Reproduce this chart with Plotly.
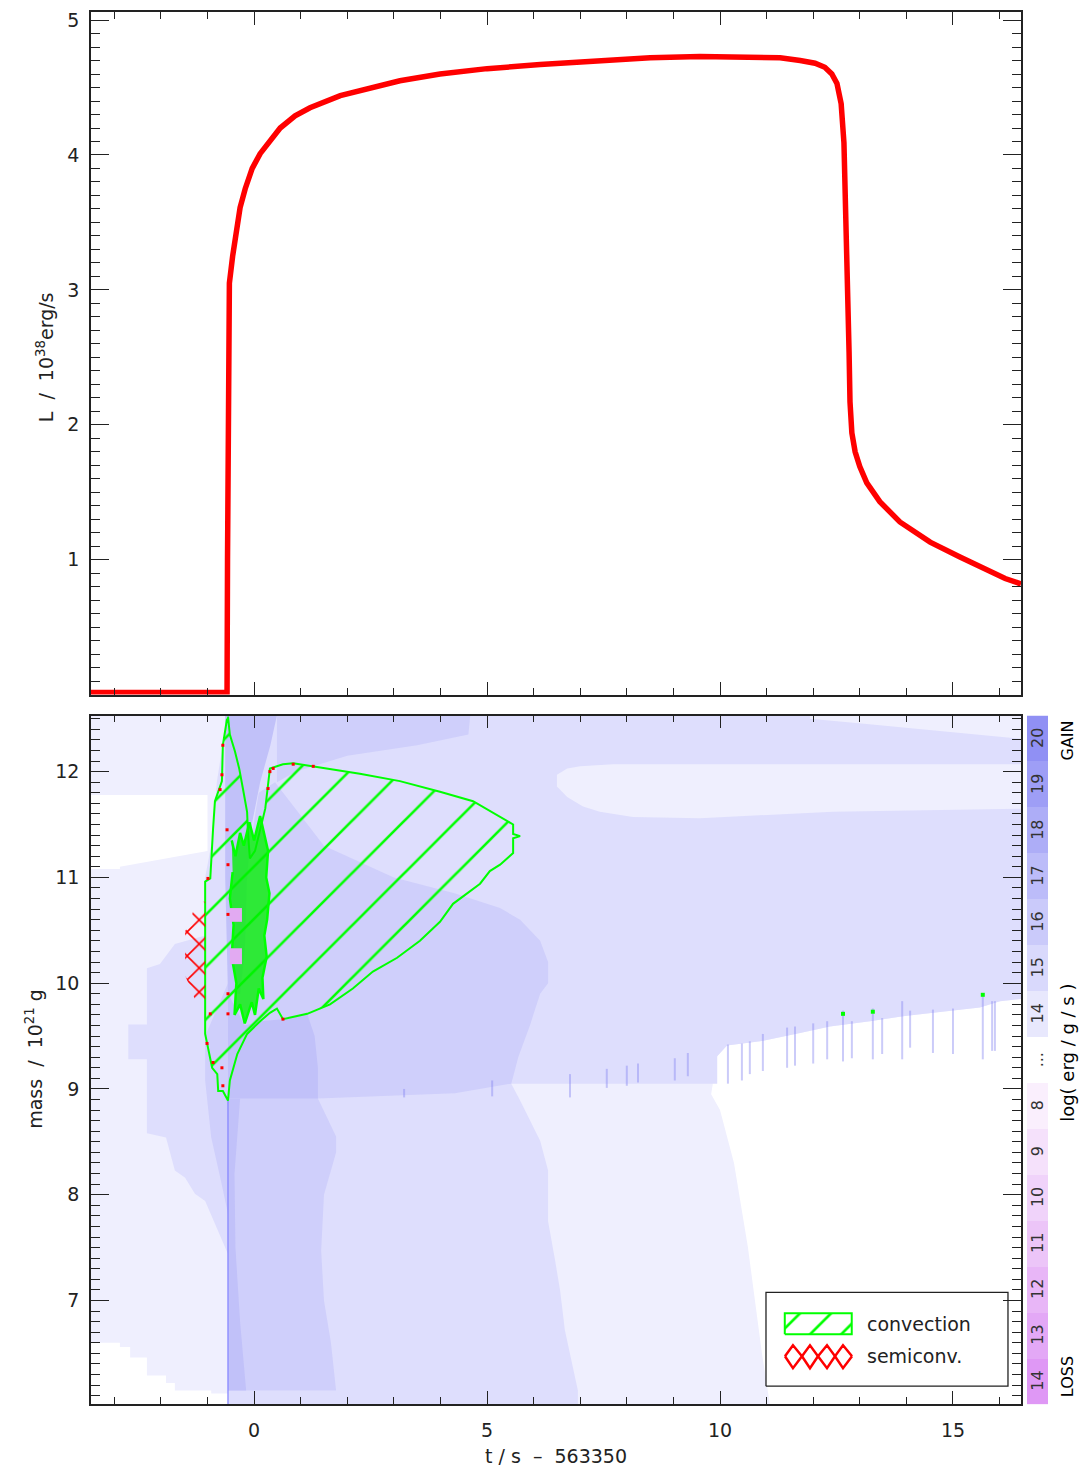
import plotly.graph_objects as go

# ---------------- data: top panel (luminosity) ----------------
t_lum = [-3.50, -0.58, -0.57, -0.56, -0.53, -0.46, -0.39, -0.30, -0.19, -0.04, 0.13, 0.34, 0.56,
         0.88, 1.20, 1.85, 2.49, 3.13, 3.99, 5.00, 6.14, 7.42, 8.50, 9.57, 10.43, 11.29, 11.72,
         12.04, 12.25, 12.40, 12.51, 12.60, 12.66, 12.70, 12.75, 12.77, 12.79, 12.83, 12.90,
         13.00, 13.15, 13.43, 13.86, 14.51, 15.15, 15.79, 16.12, 16.46]
L_lum = [0.015, 0.015, 1.00, 2.60, 3.05, 3.25, 3.42, 3.61, 3.75, 3.90, 4.01, 4.11, 4.20,
         4.29, 4.35, 4.44, 4.50, 4.55, 4.60, 4.64, 4.67, 4.70, 4.72, 4.73, 4.73, 4.72, 4.70,
         4.68, 4.65, 4.60, 4.53, 4.38, 4.09, 3.64, 3.05, 2.54, 2.17, 1.94, 1.80,
         1.69, 1.57, 1.43, 1.28, 1.13, 1.02, 0.91, 0.86, 0.82]

# ---------------- data: bottom panel (Kippenhahn regions, t / m) ----------------
T_RANGE = [-3.50, 16.46]
M_RANGE = [6.02, 12.53]

lvl14_all_t = [-3.50, 16.46, 16.46, -3.50]
lvl14_all_m = [6.02, 6.02, 12.53, 12.53]

white_tl_t = [-3.50, -1.00, -1.00, -1.37, -2.30, -2.88, -2.88, -3.50]
white_tl_m = [11.78, 11.78, 11.25, 11.22, 11.15, 11.10, 11.08, 11.08]

white_bl_t = [-3.50, -2.88, -2.88, -2.66, -2.66, -2.30, -2.30, -1.89, -1.89, -1.70, -1.70,
              -0.92, -0.92, -0.56, -0.56, -3.50]
white_bl_m = [6.60, 6.60, 6.56, 6.56, 6.46, 6.46, 6.29, 6.29, 6.22, 6.22, 6.15,
              6.15, 6.12, 6.12, 6.02, 6.02]

white_br_t = [9.81, 9.94, 10.15, 10.86, 11.72, 12.36, 13.22, 13.97, 14.94, 15.58, 16.01, 16.46,
              16.46, 11.07, 10.90, 10.60, 10.30, 10.00]
white_br_m = [8.95, 9.31, 9.41, 9.45, 9.53, 9.59, 9.64, 9.69, 9.74, 9.77, 9.83, 9.85,
              6.02, 6.02, 6.50, 7.50, 8.30, 8.80]

lvl15_t = [-0.56, 16.46, 16.46, 16.01, 15.58, 14.94, 13.97, 13.22, 12.36, 11.72, 10.86, 10.15,
           9.94, 9.94, 5.52, 5.71, 5.92, 6.14, 6.31, 6.31, 6.46, 6.57, 6.67, 6.82, 6.95, 6.95,
           -0.56, -0.56, -0.84, -1.05, -1.27, -1.48, -1.70, -1.89, -2.30, -2.30, -2.70, -2.70,
           -2.30, -2.30, -2.02, -1.70, -1.05, -1.05, -0.88, -0.80, -0.62]
lvl15_m = [12.53, 12.53, 9.85, 9.83, 9.77, 9.74, 9.69, 9.64, 9.59, 9.53, 9.45, 9.41,
           9.31, 9.05, 9.05, 8.89, 8.70, 8.51, 8.23, 7.75, 7.38, 7.09, 6.72, 6.43, 6.15, 6.02,
           6.02, 7.44, 7.73, 7.94, 8.01, 8.16, 8.23, 8.54, 8.58, 9.28, 9.28, 9.61,
           9.61, 10.14, 10.18, 10.37, 10.45, 11.00, 11.40, 11.90, 12.40]

lens14_t = [6.50, 6.72, 7.00, 7.70, 16.46, 16.46, 12.42, 9.57, 8.13, 7.42, 7.06, 6.72, 6.50]
lens14_m = [11.97, 12.03, 12.05, 12.07, 12.07, 11.65, 11.62, 11.56, 11.57, 11.62, 11.67, 11.76, 11.86]

wedge14_t = [11.93, 11.93, 13.15, 14.57, 16.01, 16.46, 16.46]
wedge14_m = [12.53, 12.50, 12.45, 12.39, 12.33, 12.31, 12.53]

lvl16_top_t = [0.49, 4.64, 4.60, 3.50, 2.00, 0.90, 0.49]
lvl16_top_m = [12.53, 12.53, 12.35, 12.25, 12.15, 12.00, 11.90]

lvl16_core_t = [0.45, 1.50, 3.00, 4.30, 5.28, 5.71, 6.14, 6.31, 6.31, 6.14, 5.92, 5.67, 5.52,
                4.31, 1.37, 1.55, 1.76, 1.76, 1.50, 1.44, 1.50, 1.65, 1.76, -0.56, -0.56,
                -0.71, -0.92, -1.05, -1.05, -0.56, -0.20, 0.10]
lvl16_core_m = [11.90, 11.30, 11.00, 10.85, 10.71, 10.60, 10.40, 10.20, 10.00, 9.90, 9.60, 9.30, 9.05,
                8.96, 8.91, 8.75, 8.55, 8.40, 8.00, 7.47, 7.00, 6.60, 6.15, 6.15, 7.82,
                8.13, 8.54, 9.08, 9.50, 10.00, 11.00, 11.80]

lvl17_spike_t = [-0.62, 0.49, 0.35, 0.13, -0.05, -0.15, -0.20, -0.30, -0.56, -0.62]
lvl17_spike_m = [12.53, 12.53, 12.25, 11.90, 11.50, 11.00, 10.30, 9.90, 9.90, 11.00]

lvl17_core_t = [-0.56, -0.20, 0.13, 0.62, 1.14, 1.30, 1.37, 1.37, -0.56]
lvl17_core_m = [9.90, 9.60, 9.64, 9.66, 9.71, 9.50, 9.20, 8.91, 8.91]

lvl17_col_t = [-0.56, -0.30, -0.42, -0.40, -0.30, -0.17, -0.56]
lvl17_col_m = [8.91, 8.91, 8.20, 7.50, 6.80, 6.15, 6.15]

loss_patch1_t = [-0.52, -0.26, -0.26, -0.52]
loss_patch1_m = [10.71, 10.71, 10.58, 10.58]
loss_patch2_t = [-0.52, -0.26, -0.26, -0.52]
loss_patch2_m = [10.33, 10.33, 10.18, 10.18]

core_line_t = [-0.56, -0.56]
core_line_m = [8.90, 6.02]

spike_t = [6.78, 7.57, 8.00, 8.24, 9.03, 9.31, 10.17, 10.47, 10.64, 10.92, 11.44, 11.61, 12.00,
           12.30, 12.64, 12.83, 13.28, 13.48, 13.91, 14.08, 14.57, 15.00, 15.64, 15.84, 15.90,
           5.11, 3.22]
spike_top = [9.14, 9.19, 9.22, 9.24, 9.29, 9.34, 9.42, 9.43, 9.45, 9.52, 9.58, 9.59, 9.62,
             9.64, 9.74, 9.64, 9.76, 9.67, 9.83, 9.74, 9.75, 9.76, 9.88, 9.83, 9.83,
             9.08, 9.00]
spike_bot = [8.92, 9.01, 9.03, 9.06, 9.08, 9.12, 9.05, 9.08, 9.14, 9.17, 9.20, 9.22, 9.24,
             9.28, 9.26, 9.29, 9.28, 9.33, 9.28, 9.39, 9.34, 9.33, 9.28, 9.36, 9.36,
             8.93, 8.92]

conv_t = [-0.56, -0.52, -0.41, -0.32, -0.24, -0.15, -0.13, -0.09, 0.02, 0.24, 0.34, 0.62, 0.84,
          1.27, 1.63, 2.27, 3.13, 3.99, 4.70, 5.21, 5.56, 5.56, 5.71, 5.56, 5.56, 5.28, 5.06,
          4.85, 4.57, 4.27, 3.99, 3.56, 3.07, 2.55, 2.12, 1.63, 1.14, 0.62, 0.49, 0.34, 0.13,
          -0.15, -0.36, -0.52, -0.56, -0.67, -0.77, -0.79, -0.90, -1.05, -1.05, -0.94, -0.88,
          -0.84, -0.69, -0.67, -0.58]
conv_m = [12.52, 12.35, 12.19, 12.03, 11.84, 11.62, 11.41, 11.18, 11.25, 11.65, 12.03, 12.07, 12.08,
          12.05, 12.02, 11.98, 11.91, 11.81, 11.72, 11.59, 11.50, 11.41, 11.39, 11.37, 11.23, 11.12, 11.06,
          10.94, 10.85, 10.75, 10.58, 10.40, 10.24, 10.11, 9.95, 9.80, 9.71, 9.66, 9.76, 9.72, 9.64,
          9.52, 9.33, 9.08, 8.89, 8.98, 8.98, 9.14, 9.20, 9.52, 10.96, 10.99, 11.46,
          11.72, 11.91, 12.25, 12.50]

# dense convective mixing zone (irregular outline)
mix_t = [-0.48, -0.40, -0.30, -0.22, -0.10, 0.00, 0.13, 0.22, 0.30, 0.26, 0.33, 0.28, 0.22, 0.27,
         0.18, 0.20, 0.10, 0.02, -0.05, -0.20, -0.30, -0.42, -0.38, -0.48, -0.44, -0.52, -0.46]
mix_m = [11.35, 11.20, 11.42, 11.30, 11.52, 11.35, 11.58, 11.40, 11.25, 11.00, 10.85, 10.60, 10.45, 10.25,
         10.05, 9.85, 9.95, 9.70, 9.82, 9.62, 9.80, 9.70, 10.00, 10.25, 10.55, 10.80, 11.05]

semi_t = [-1.22, -1.05, -1.05, -1.22, -1.33, -1.48, -1.48, -1.37, -1.31]
semi_m = [10.77, 10.77, 9.78, 9.78, 9.92, 10.07, 10.49, 10.58, 10.68]

semi_dot_t = [-0.67, -0.69, -0.73, -0.58, -0.56, -0.56, -0.56, -0.56, -0.88, -0.69, -0.67,
              0.34, 0.30, 0.41, 0.84, 1.27, 0.62, -0.94, -0.99, -1.01]
semi_dot_m = [12.25, 11.97, 11.83, 11.45, 11.12, 10.65, 9.90, 9.71, 9.25, 9.20, 9.03,
              12.00, 11.84, 12.03, 12.07, 12.05, 9.66, 9.71, 10.99, 9.43]

conv_dot_t = [12.64, 13.28, 15.64]
conv_dot_m = [9.71, 9.73, 9.89]

# colour-bar cells (bottom to top) and labels
cb_labels = ["14", "13", "12", "11", "10", "9", "8", "...", "14", "15", "16", "17", "18", "19", "20"]
cb_colors = ["#df98f5", "#e3a8f6", "#e8b6f7", "#ecc5f8", "#f0d3fa", "#f5e1fb", "#faeffd", "#ffffff",
             "#e8e8fd", "#d9d9fc", "#cacafa", "#bcbcf9", "#adadf7", "#9e9ef6", "#9090f4"]

# ---------------- styles ----------------
C14, C15, C16, C17 = "#efeffe", "#dedefd", "#cfcffb", "#c1c1f9"
GREEN, RED = "#00ff00", "#ff0000"
FONT = "DejaVu Sans"
INK = "#222222"

W, H = 1084, 1476
X_DOM = [91 / W, 1021 / W]
Y_TOP = [1 - 693 / H, 1 - 9 / H]
Y_BOT = [1 - 1404 / H, 1 - 714 / H]
CB_X = [1027 / W, 1048 / W]

fig = go.Figure()

# top panel
fig.add_trace(go.Scatter(x=t_lum, y=L_lum, mode="lines", line=dict(color=RED, width=5.5),
                         xaxis="x", yaxis="y", hoverinfo="skip"))


def region(t, m, color, xa="x2", ya="y2"):
    fig.add_trace(go.Scatter(x=t, y=m, mode="lines", fill="toself", fillcolor=color,
                             line=dict(width=0, color=color), xaxis=xa, yaxis=ya, hoverinfo="skip"))


def hatch(shape, color, size, solidity):
    return dict(shape=shape, fgcolor=color, bgcolor="rgba(0,0,0,0)", fgopacity=1,
                fillmode="replace", size=size, solidity=solidity)


region(lvl14_all_t, lvl14_all_m, C14)
region(white_tl_t, white_tl_m, "#ffffff")
region(white_bl_t, white_bl_m, "#ffffff")
region(white_br_t, white_br_m, "#ffffff")
region(lvl15_t, lvl15_m, C15)
region(lens14_t, lens14_m, C14)
region(wedge14_t, wedge14_m, C14)
region(lvl16_top_t, lvl16_top_m, C16)
region(lvl16_core_t, lvl16_core_m, C16)
region(lvl17_spike_t, lvl17_spike_m, C17)
region(lvl17_core_t, lvl17_core_m, C17)
region(lvl17_col_t, lvl17_col_m, C17)

# blue streaks below the burning front
sx, sy = [], []
for t0, a, b in zip(spike_t, spike_top, spike_bot):
    sx += [t0, t0, None]
    sy += [a, b, None]
fig.add_trace(go.Scatter(x=sx, y=sy, mode="lines", line=dict(color="rgba(130,130,240,0.42)", width=2),
                         xaxis="x2", yaxis="y2", hoverinfo="skip"))
fig.add_trace(go.Scatter(x=core_line_t, y=core_line_m, mode="lines", line=dict(color="#8080ff", width=1.2),
                         xaxis="x2", yaxis="y2", hoverinfo="skip"))

# convection
fig.add_trace(go.Scatter(x=conv_t, y=conv_m, mode="lines", fill="toself", fillcolor=GREEN,
                         fillpattern=hatch("/", GREEN, 37, 0.07),
                         line=dict(color=GREEN, width=2), xaxis="x2", yaxis="y2", hoverinfo="skip"))
fig.add_trace(go.Scatter(x=mix_t, y=mix_m, mode="lines", fill="toself", fillcolor="rgba(0,240,0,0.78)",
                         line=dict(color=GREEN, width=2.5), xaxis="x2", yaxis="y2", hoverinfo="skip"))
region(loss_patch1_t, loss_patch1_m, "#e2aaf2")
region(loss_patch2_t, loss_patch2_m, "#e2aaf2")
# semiconvection
fig.add_trace(go.Scatter(x=semi_t, y=semi_m, mode="lines", fill="toself", fillcolor=RED,
                         fillpattern=hatch("x", RED, 17, 0.18),
                         line=dict(width=0, color=RED), xaxis="x2", yaxis="y2", hoverinfo="skip"))
fig.add_trace(go.Scatter(x=semi_dot_t, y=semi_dot_m, mode="markers",
                         marker=dict(color=RED, size=3, symbol="square"), xaxis="x2", yaxis="y2",
                         hoverinfo="skip"))
fig.add_trace(go.Scatter(x=conv_dot_t, y=conv_dot_m, mode="markers",
                         marker=dict(color=GREEN, size=4, symbol="square"), xaxis="x2", yaxis="y2",
                         hoverinfo="skip"))

# legend (overlay axes x3/y3 spanning the lower panel in fractions)
leg_box_x = [0.7258, 0.986, 0.986, 0.7258, 0.7258]
leg_box_y = [0.0261, 0.0261, 0.1623, 0.1623, 0.0261]
fig.add_trace(go.Scatter(x=leg_box_x, y=leg_box_y, mode="lines", fill="toself", fillcolor="white",
                         line=dict(color=INK, width=1.3), xaxis="x3", yaxis="y3", hoverinfo="skip"))
sw_x = [0.746, 0.818, 0.818, 0.746, 0.746]
sw_y = [0.1014, 0.1014, 0.1319, 0.1319, 0.1014]
fig.add_trace(go.Scatter(x=sw_x, y=sw_y, mode="lines", fill="toself", fillcolor=GREEN,
                         fillpattern=hatch("/", GREEN, 22, 0.12),
                         line=dict(color=GREEN, width=2), xaxis="x3", yaxis="y3", hoverinfo="skip"))
zz_x = [0.7462, 0.7548, 0.7645, 0.7731, 0.7817, 0.7914, 0.8, 0.8086, 0.8183]
zz_top = [0.0696, 0.0855, 0.0696, 0.0855, 0.0696, 0.0855, 0.0696, 0.0855, 0.0696]
zz_bot = [0.0696, 0.0522, 0.0696, 0.0522, 0.0696, 0.0522, 0.0696, 0.0522, 0.0696]
fig.add_trace(go.Scatter(x=zz_x + [None] + zz_x, y=zz_top + [None] + zz_bot, mode="lines",
                         line=dict(color=RED, width=2.5), xaxis="x3", yaxis="y3", hoverinfo="skip"))

# colour bar
n = len(cb_colors)
cs = []
for i, c in enumerate(cb_colors):
    cs.append([i / n, c])
    cs.append([(i + 1) / n, c])
fig.add_trace(go.Heatmap(x=[0], y=list(range(n)), z=[[i] for i in range(n)], colorscale=cs,
                         zmin=-0.5, zmax=n - 0.5, showscale=False, xaxis="x4", yaxis="y4",
                         hoverinfo="skip"))


def ann(x, y, text, size=19, color=INK, angle=0, xref="paper", yref="paper", xanchor="center"):
    return dict(x=x, y=y, xref=xref, yref=yref, text=text, showarrow=False, textangle=angle,
                xanchor=xanchor, yanchor="middle", font=dict(size=size, color=color, family=FONT))


annotations = []
for i, lab in enumerate(cb_labels):
    annotations.append(ann(0, i, lab, size=16, color="#333333", angle=-90, xref="x4", yref="y4"))
annotations += [
    ann(1067 / W, 1 - 739 / H, "GAIN", size=16, color="black", angle=-90),
    ann(1067 / W, 1 - 1377 / H, "LOSS", size=16, color="black", angle=-90),
    ann(1068 / W, 1 - 1052 / H, "log( erg / g / s )", size=18, color="black", angle=-90),
    ann(45 / W, 1 - 355 / H, "L  /  10<sup>38</sup>erg/s", angle=-90),
    ann(34 / W, 1 - 1058 / H, "mass  /  10<sup>21</sup> g", angle=-90),
    ann(556 / W, 1 - 1456 / H, "t / s  \u2013  563350"),
    ann(0.8323, 0.1166, "convection", xref="x3", yref="y3", xanchor="left"),
    ann(0.8323, 0.0696, "semiconv.", xref="x3", yref="y3", xanchor="left"),
]

axis_base = dict(showline=True, linecolor=INK, linewidth=1.5, mirror="ticks", ticks="inside",
                 tickcolor=INK, tickwidth=1.3, showgrid=False, zeroline=False,
                 tickfont=dict(size=19, color=INK, family=FONT))


def minor(dt, ln):
    return dict(tickmode="linear", tick0=0, dtick=dt, ticklen=ln, ticks="inside",
                tickcolor=INK, tickwidth=1.3, showgrid=False)


fig.update_layout(
    width=W, height=H, margin=dict(l=0, r=0, t=0, b=0),
    paper_bgcolor="white", plot_bgcolor="white", showlegend=False,
    font=dict(family=FONT, size=19, color=INK),
    xaxis=dict(axis_base, domain=X_DOM, anchor="y", range=T_RANGE, tickmode="linear", tick0=0, dtick=5,
               ticklen=13, showticklabels=False, minor=minor(1, 7)),
    yaxis=dict(axis_base, domain=Y_TOP, anchor="x", range=[0, 5.06], tickmode="array",
               tickvals=[1, 2, 3, 4, 5], ticklen=18, minor=minor(0.1, 9), ticklabelstandoff=6),
    xaxis2=dict(axis_base, domain=X_DOM, anchor="y2", range=T_RANGE, tickmode="linear", tick0=0, dtick=5,
                ticklen=13, minor=minor(1, 7), ticklabelstandoff=8),
    yaxis2=dict(axis_base, domain=Y_BOT, anchor="x2", range=M_RANGE, tickmode="linear", tick0=0, dtick=1,
                ticklen=18, minor=minor(0.1, 9), ticklabelstandoff=6),
    xaxis3=dict(overlaying="x2", anchor="y3", range=[0, 1], visible=False, showgrid=False, zeroline=False),
    yaxis3=dict(overlaying="y2", anchor="x3", range=[0, 1], visible=False, showgrid=False, zeroline=False),
    xaxis4=dict(domain=CB_X, anchor="y4", range=[-0.5, 0.5], visible=False, showgrid=False, zeroline=False),
    yaxis4=dict(domain=Y_BOT, anchor="x4", range=[-0.5, n - 0.5], visible=False, showgrid=False,
                zeroline=False),
    annotations=annotations,
)

fig.write_html("out.html")
